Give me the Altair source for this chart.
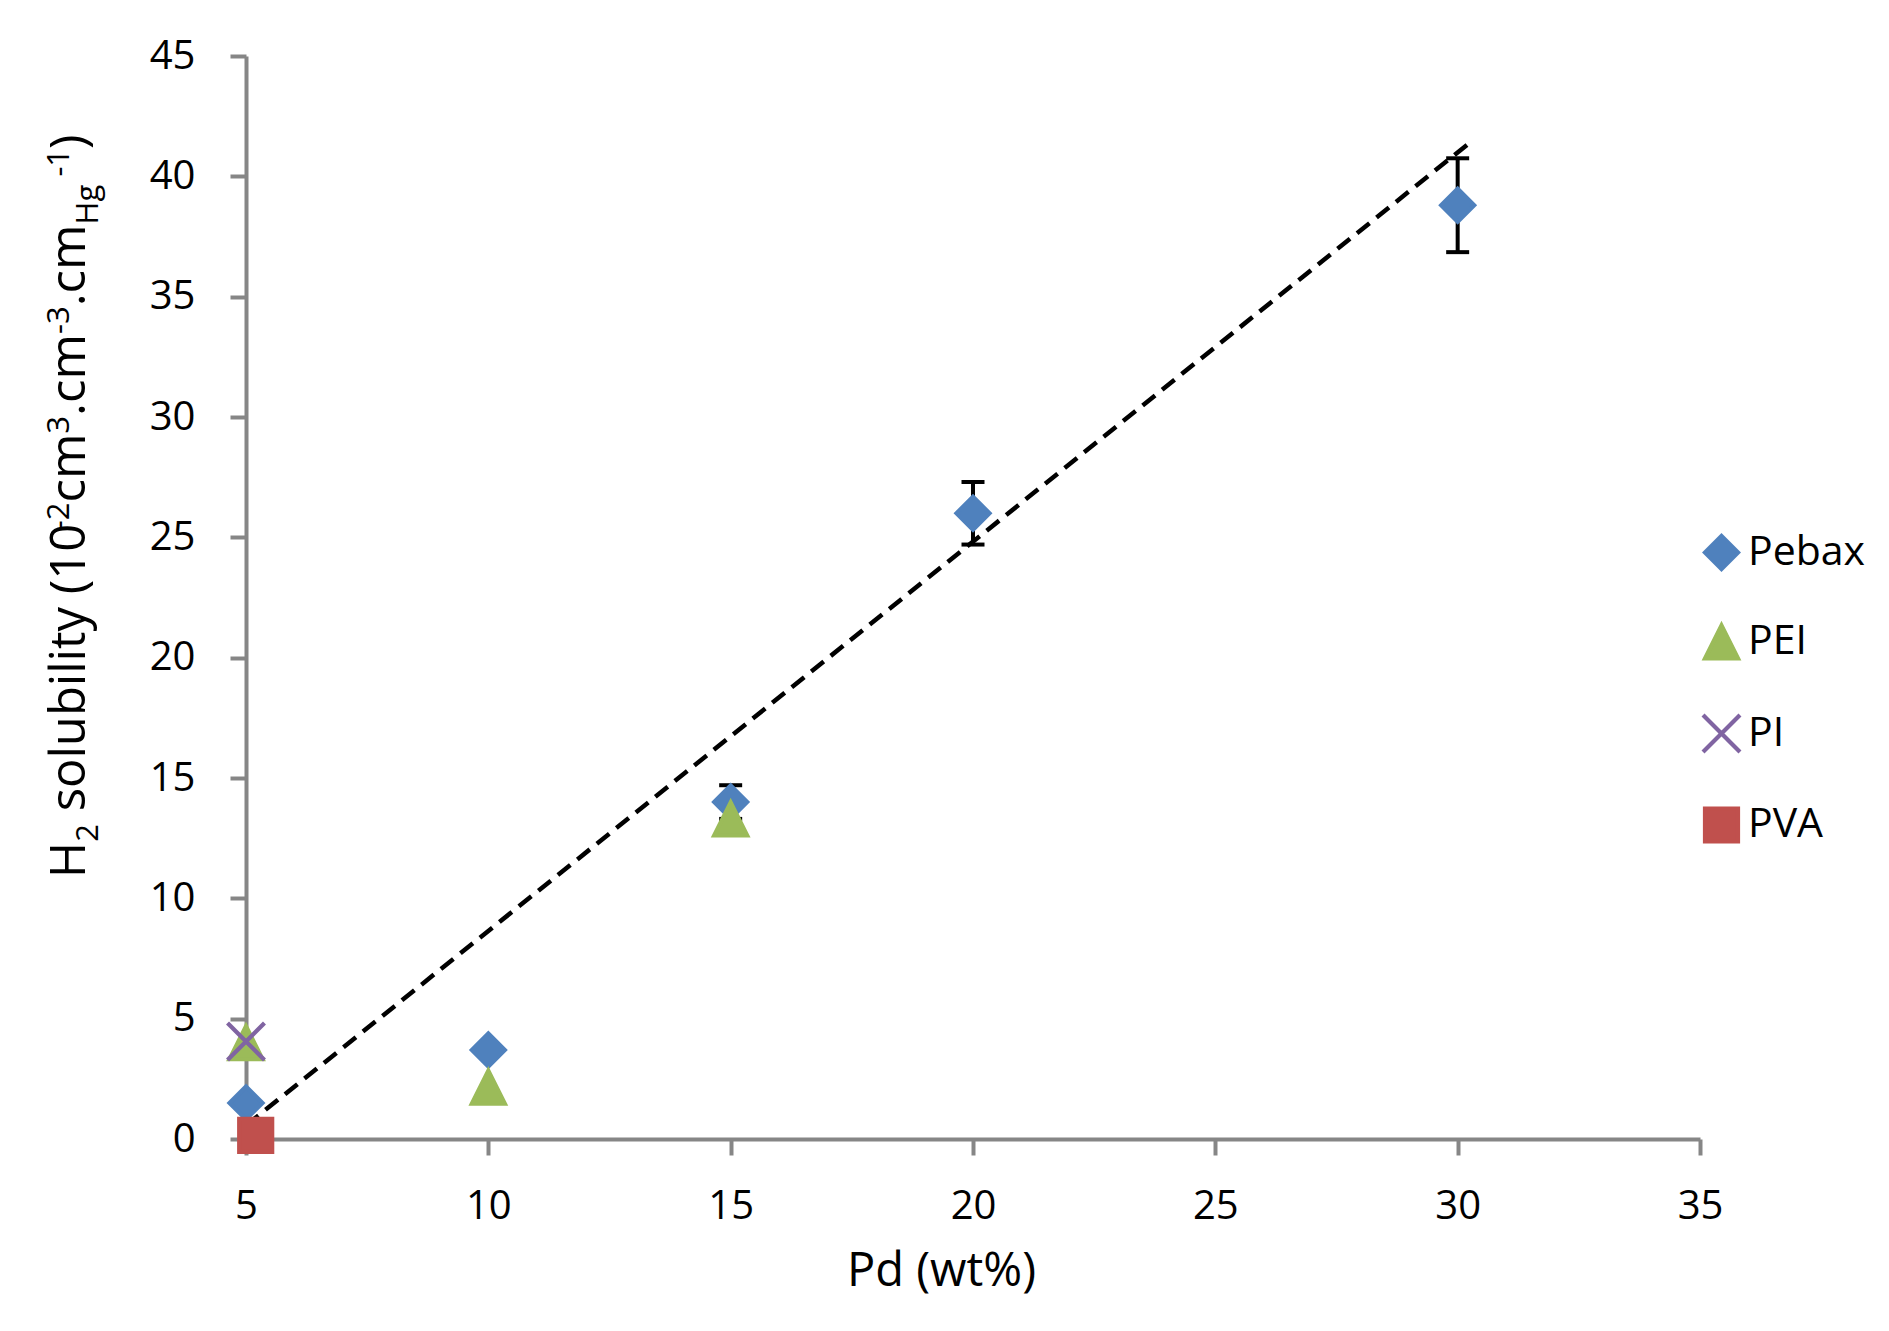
import altair as alt
import pandas as pd

# ---------------- data ----------------
series_names = ["Pebax", "PEI", "PI", "PVA"]
series_colors = ["#4F81BD", "#9BBB59", "#8064A2", "#C0504D"]

pebax_x = [5, 10, 15, 20, 30]
pebax_y = [1.5, 3.7, 14.0, 26.0, 38.8]
pebax_err = [0.0, 0.0, 0.7, 1.3, 1.95]

pei_x = [5, 10, 15]
pei_y = [4.0, 2.15, 13.3]

pi_x = [5]
pi_y = [4.05]

pva_x = [5.2]
pva_y = [0.15]

trend_x = [5, 30.25]
trend_y = [0.56, 41.4]

x_ticks = [5, 10, 15, 20, 25, 30, 35]
y_ticks = [0, 5, 10, 15, 20, 25, 30, 35, 40, 45]

x_title = "Pd (wt%)"
# y title pieces: (text, kind) kind: n = normal, sub = subscript, sup = superscript
y_title_parts = [
    ("H", "n"), ("2", "sub"), (" solubility (10", "n"), ("-2", "sup"),
    ("cm", "n"), ("3", "sup"), (".cm", "n"), ("-3", "sup"), (".cm", "n"),
    ("Hg ", "sub"), ("-1", "sup"), (")", "n"),
]

# ---------------- tables ----------------
rows = []
for xs, ys, name in [(pebax_x, pebax_y, "Pebax"), (pei_x, pei_y, "PEI"),
                     (pi_x, pi_y, "PI"), (pva_x, pva_y, "PVA")]:
    for a, b in zip(xs, ys):
        rows.append({"x": a, "y": b, "series": name})
points = pd.DataFrame(rows)

err = pd.DataFrame({"x": pebax_x, "y": pebax_y, "e": pebax_err})
err = err[err["e"] > 0].copy()
err["lo"] = err["y"] - err["e"]
err["hi"] = err["y"] + err["e"]

trend = pd.DataFrame({"x": trend_x, "y": trend_y})

FONT = "Open Sans"
AXIS_GREY = "#868686"

x_scale = alt.Scale(domain=[5, 35], nice=False, zero=False)
y_scale = alt.Scale(domain=[0, 45], nice=False, zero=False)

x_axis = alt.Axis(
    values=x_ticks, title=x_title, titleX=695, titleY=146,
    titleBaseline="alphabetic", titleAlign="center", titleAnchor="middle",
    titleFont=FONT, titleFontSize=47, titleFontWeight="normal", titleColor="black",
    labelPadding=31, format="d", labelFlush=False,
)
y_axis = alt.Axis(values=y_ticks, title=None, labelPadding=35, format="d",
                  labelFlush=False)

def X(field="x"):
    return alt.X(f"{field}:Q", scale=x_scale, axis=x_axis)

def Y(field="y"):
    return alt.Y(f"{field}:Q", scale=y_scale, axis=y_axis)

# ---------------- layers ----------------
bars = alt.Chart(err).mark_rule(color="black", strokeWidth=4).encode(
    x=X(), y=Y("lo"), y2="hi:Q"
)
caps_hi = alt.Chart(err).mark_tick(color="black", orient="horizontal", size=23,
                                   thickness=4, opacity=1).encode(x=X(), y=Y("hi"))
caps_lo = alt.Chart(err).mark_tick(color="black", orient="horizontal", size=23,
                                   thickness=4, opacity=1).encode(x=X(), y=Y("lo"))

line = alt.Chart(trend).mark_line(color="black", strokeWidth=4.5,
                                  strokeDash=[16, 9]).encode(x=X(), y=Y())

shape_paths = [
    "M-1,0L0,-1L1,0L0,1Z",
    "M0,-1L1,1L-1,1Z",
    "M-1.12,-1.12L1.12,1.12M-1.12,1.12L1.12,-1.12",
    "M-1,-1L1,-1L1,1L-1,1Z",
]
MSIZE = 1089
MSTROKE = 4.2
leg = alt.Legend(
    title=None, orient="none", legendX=1455, legendY=476,
    symbolSize=MSIZE, symbolStrokeWidth=MSTROKE, labelFont=FONT, labelFontSize=41,
    labelColor="black", rowPadding=38.5, labelOffset=6, padding=0,
)
color_scale = alt.Scale(domain=series_names, range=series_colors)
pts = alt.Chart(points).mark_point(filled=True, size=MSIZE, strokeWidth=MSTROKE,
                                   opacity=1).encode(
    x=X(), y=Y(),
    fill=alt.Fill("series:N", scale=color_scale, legend=leg),
    stroke=alt.Stroke("series:N", scale=color_scale, legend=leg),
    shape=alt.Shape("series:N", scale=alt.Scale(domain=series_names, range=shape_paths),
                    legend=leg),
)

# ---------------- y-axis title built from text pieces ----------------
EM = {' ': 0.260, 'H': 0.738, 's': 0.389, 'o': 0.604, 'l': 0.240, 'u': 0.614,
      'b': 0.613, 'i': 0.240, 't': 0.355, 'y': 0.501, '(': 0.296, ')': 0.296,
      'c': 0.476, 'm': 0.930, '.': 0.266, '-': 0.322, 'g': 0.543}
for d in "0123456789":
    EM[d] = 0.572

FS_MAIN, FS_SMALL = 49, 31
BASE_X = -161
SHIFT = {"n": 0, "sub": 13, "sup": -16}
cur_y = 822.0
dummy = pd.DataFrame({"a": [0]})
title_layers = []
for txt, kind in y_title_parts:
    fs = FS_MAIN if kind == "n" else FS_SMALL
    shown = txt.strip()
    lead = len(txt) - len(txt.lstrip())
    y_here = cur_y - lead * EM[' '] * fs
    title_layers.append(
        alt.Chart(dummy).mark_text(angle=270, align="left", baseline="alphabetic",
                                   font=FONT, fontSize=fs, color="black").encode(
            x=alt.value(BASE_X + SHIFT[kind]), y=alt.value(y_here), text=alt.value(shown)
        )
    )
    cur_y -= sum(EM.get(c, 0.55) for c in txt) * fs

chart = alt.layer(bars, caps_hi, caps_lo, line, pts, *title_layers).properties(
    width=1454, height=1083,
    autosize=alt.AutoSizeParams(type="none"),
    padding={"left": 238, "top": 48, "right": 181, "bottom": 184},
).configure_view(strokeWidth=0).configure_axis(
    domainColor=AXIS_GREY, domainWidth=4, tickColor=AXIS_GREY, tickWidth=4,
    tickSize=16, grid=False, labelFont=FONT, labelFontSize=40, labelColor="black",
)

chart.save("out.html", embed_options={"renderer": "svg", "actions": False})
